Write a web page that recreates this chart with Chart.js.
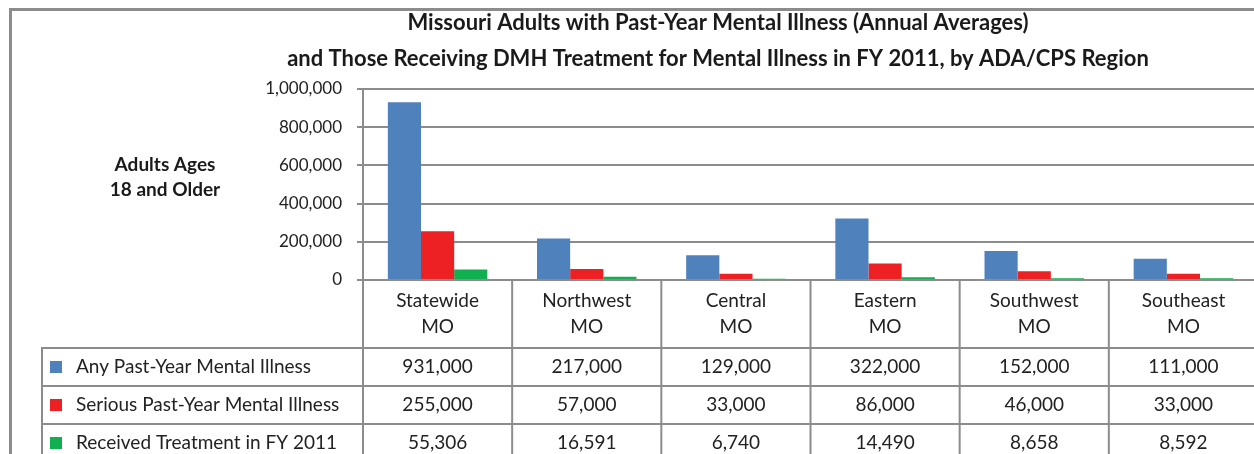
<!DOCTYPE html>
<html>
<head>
<meta charset="utf-8">
<script src="https://cdn.jsdelivr.net/npm/chart.js@4.4.1/dist/chart.umd.min.js"></script>
<style>
  html, body { margin: 0; padding: 0; background: #fff; overflow: hidden; }
  #wrap { width: 1260px; height: 454px; }
</style>
</head>
<body>
<div id="wrap"><canvas id="mhChart" width="1260" height="454"></canvas></div>
<script>
// --- data ---
const regions = [
    ['Statewide', 'MO'], ['Northwest', 'MO'], ['Central', 'MO'],
    ['Eastern', 'MO'], ['Southwest', 'MO'], ['Southeast', 'MO']
];
const seriesNames = [
    'Any Past-Year Mental Illness',
    'Serious Past-Year Mental Illness',
    'Received Treatment in FY 2011'
];
const anyIllness     = [931000, 217000, 129000, 322000, 152000, 111000];
const seriousIllness = [255000, 57000, 33000, 86000, 46000, 33000];
const treated        = [55306, 16591, 6740, 14490, 8658, 8592];
const yTicks = [0, 200000, 400000, 600000, 800000, 1000000];

const titleLines = [
    'Missouri Adults with Past-Year Mental Illness (Annual Averages)',
    'and Those Receiving DMH Treatment for Mental Illness in FY 2011, by ADA/CPS Region'
];
const yTitleLines = ['Adults Ages', '18 and Older'];

const COLORS = ['#4F81BD', '#ED2024', '#10AF4F'];
const LINE = '#8c8c8c';
const FONT = 'Lato, "Open Sans", sans-serif';
const fmt = v => v.toLocaleString('en-US');

const allSeries = [anyIllness, seriousIllness, treated];

// draws frame, titles and the data table under the axis
const tablePlugin = {
    id: 'dataTable',
    afterDraw(chart) {
        const { ctx, chartArea, scales } = chart;
        const x = scales.x;
        const W = chart.width, H = chart.height;
        const n = regions.length;
        const step = x.getPixelForValue(1) - x.getPixelForValue(0);
        const bounds = [];
        for (let i = 0; i <= n; i++) bounds.push(x.getPixelForValue(i) - step / 2);

        ctx.save();
        // outer frame
        ctx.strokeStyle = LINE;
        ctx.lineWidth = 3;
        ctx.beginPath();
        ctx.moveTo(10.5, H); ctx.lineTo(10.5, 9.5); ctx.lineTo(W, 9.5);
        ctx.stroke();

        // title
        ctx.fillStyle = '#1a1a1a';
        ctx.textAlign = 'center';
        ctx.textBaseline = 'middle';
        ctx.font = 'bold 22px ' + FONT;
        ctx.fillText(titleLines[0], 718, 23);
        ctx.fillText(titleLines[1], 718, 59);

        // y axis title
        ctx.font = 'bold 19px ' + FONT;
        ctx.fillText(yTitleLines[0], 165, 165);
        ctx.fillText(yTitleLines[1], 165, 190);

        // table grid
        const rowTops = [348, 386, 424];
        const rowH = 38;
        ctx.strokeStyle = LINE;
        ctx.lineWidth = 2;
        ctx.beginPath();
        bounds.forEach(b => { ctx.moveTo(b, chartArea.bottom); ctx.lineTo(b, H); });
        ctx.moveTo(42, rowTops[0]); ctx.lineTo(42, H);
        rowTops.forEach(t => { ctx.moveTo(41, t); ctx.lineTo(W, t); });
        ctx.stroke();

        // table text
        ctx.font = '19px ' + FONT;
        allSeries.forEach((vals, r) => {
            const cy = rowTops[r] + rowH / 2;
            ctx.fillStyle = COLORS[r];
            ctx.fillRect(50, cy - 6, 12, 12);
            ctx.fillStyle = '#222';
            ctx.textAlign = 'left';
            ctx.fillText(seriesNames[r], 76, cy);
            ctx.textAlign = 'center';
            vals.forEach((v, i) => ctx.fillText(fmt(v), x.getPixelForValue(i), cy));
        });
        ctx.restore();
    }
};

new Chart(document.getElementById('mhChart'), {
    type: 'bar',
    data: {
        labels: regions,
        datasets: allSeries.map((vals, i) => ({
            label: seriesNames[i],
            data: vals,
            backgroundColor: COLORS[i],
            categoryPercentage: 0.667,
            barPercentage: 1.0
        }))
    },
    options: {
        responsive: false,
        animation: false,
        layout: { padding: { left: 0, top: 89, right: 2, bottom: 0 } },
        plugins: {
            legend: { display: false },
            title: { display: false },
            tooltip: { enabled: false }
        },
        scales: {
            x: {
                afterFit: s => { s.height = 174; },
                grid: { display: false },
                border: { display: false },
                ticks: {
                    color: '#222',
                    font: { family: FONT, size: 19, lineHeight: 1.37 },
                    padding: 0,
                    maxRotation: 0,
                    autoSkip: false
                }
            },
            y: {
                min: 0,
                max: 1000000,
                afterFit: s => { s.width = 363; },
                afterBuildTicks: s => { s.ticks = yTicks.map(v => ({ value: v })); },
                grid: { color: LINE, lineWidth: 2, tickLength: 6 },
                border: { color: LINE, width: 2 },
                ticks: {
                    color: '#222',
                    font: { family: FONT, size: 17 },
                    padding: 15,
                    callback: v => fmt(v)
                }
            }
        }
    },
    plugins: [tablePlugin]
});
</script>
</body>
</html>
